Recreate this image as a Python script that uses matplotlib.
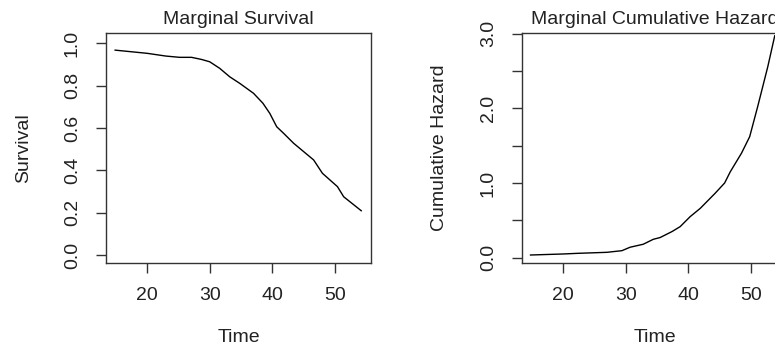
import matplotlib.pyplot as plt
from matplotlib.ticker import FixedLocator, FixedFormatter

plt.rcParams['font.family'] = ['Liberation Sans', 'DejaVu Sans']

# marginal survival curve
surv_time = [14.9, 20.0, 23.0, 25.2, 27.1, 28.7, 30.0, 31.6, 33.2, 34.8, 37.0,
             38.5, 39.6, 40.7, 41.8, 43.4, 46.6, 48.0, 50.4, 51.4, 54.2]
surv = [0.968, 0.953, 0.940, 0.934, 0.934, 0.924, 0.913, 0.882, 0.842, 0.811, 0.764,
        0.717, 0.669, 0.606, 0.575, 0.528, 0.449, 0.386, 0.323, 0.275, 0.209]

# marginal cumulative hazard curve
haz_time = [14.8, 20.1, 22.2, 27.0, 29.4, 30.7, 32.8, 34.4, 35.5, 37.4, 38.7,
            40.3, 41.9, 44.3, 45.8, 46.7, 48.5, 49.8, 51.1, 52.7, 53.8]
cumhaz = [0.036, 0.05, 0.058, 0.072, 0.094, 0.14, 0.18, 0.246, 0.27, 0.35, 0.416,
          0.55, 0.66, 0.864, 1.0, 1.15, 1.40, 1.62, 2.03, 2.56, 2.97]

x_ticks = [20, 30, 40, 50]
surv_ticks = [0.0, 0.2, 0.4, 0.6, 0.8, 1.0]
surv_labels = ["0.0", "0.2", "0.4", "0.6", "0.8", "1.0"]
haz_ticks = [0.0, 0.5, 1.0, 1.5, 2.0, 2.5, 3.0]
haz_labels = ["0.0", "", "1.0", "", "2.0", "", "3.0"]

W, H = 775, 347
fig = plt.figure(figsize=(W / 100, H / 100), dpi=100)
ax1 = fig.add_axes([106 / W, (H - 263) / H, 265 / W, 230 / H])
ax2 = fig.add_axes([522 / W, (H - 263) / H, 265 / W, 230 / H])

edge = "#333333"
txt = "#222222"


def style(ax, yticks, ylabels, title, ylabel):
    ax.set_xlim(13.44, 55.76)
    ax.xaxis.set_major_locator(FixedLocator(x_ticks))
    ax.yaxis.set_major_locator(FixedLocator(yticks))
    ax.yaxis.set_major_formatter(FixedFormatter(ylabels))
    for s in ax.spines.values():
        s.set_color(edge)
        s.set_linewidth(1.0)
    ax.tick_params(axis='both', direction='out', length=7, width=1.0,
                   color=edge, labelsize=14, labelcolor=txt)
    ax.tick_params(axis='x', pad=10)
    ax.tick_params(axis='y', pad=11, labelrotation=90)
    plt.setp(ax.get_yticklabels(), va='center')
    ax.set_title(title, fontsize=14, color=txt, y=1.057, pad=0, va='center')
    ax.set_xlabel("Time", fontsize=14, color=txt, va='center', ha='center')
    ax.xaxis.set_label_coords(0.5, -0.322)
    ax.set_ylabel(ylabel, fontsize=14, color=txt, va='center', ha='center')
    ax.yaxis.set_label_coords(-0.31, 0.5)


ax1.plot(surv_time, surv, color="black", linewidth=1.0)
ax1.set_ylim(-0.038, 1.049)
style(ax1, surv_ticks, surv_labels, "Marginal Survival", "Survival")

ax2.plot(haz_time, cumhaz, color="black", linewidth=1.0)
ax2.set_ylim(-0.071, 3.008)
style(ax2, haz_ticks, haz_labels, "Marginal Cumulative Hazard", "Cumulative Hazard")

fig.savefig("out.png", dpi=100)
